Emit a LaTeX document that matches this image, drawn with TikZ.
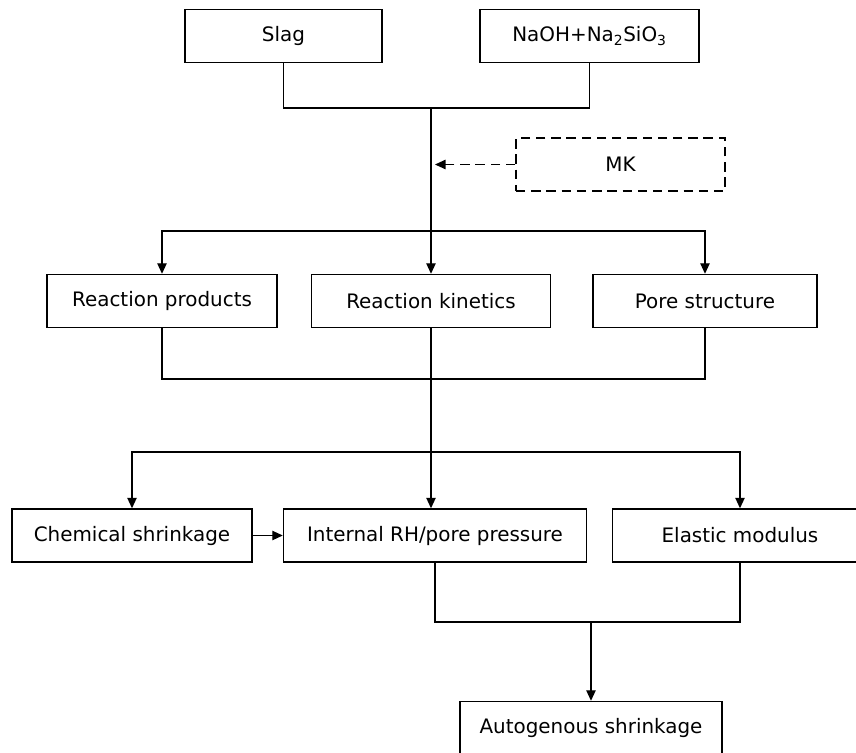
\documentclass[tikz,border=0pt]{standalone}
\usepackage{fontspec}
\setmainfont{DejaVu Sans}
\usetikzlibrary{arrows.meta}
\begin{document}
\begin{tikzpicture}[x=0.03cm, y=-0.03cm, font=\fontsize{17}{20}\selectfont, line width=1.2pt, line join=miter,
	>={Triangle[length=9pt,width=8pt]},
	box/.style={draw, inner sep=0pt, minimum height=1.59cm, minimum width=#1*0.03cm},
	dsh/.style={dash pattern=on 8pt off 5pt}]
			
			\useasboundingbox (0,0) rectangle (856,753);
			\clip (0,0) rectangle (856,753);
			
			% inputs
			\node[box=197] (slag) at (283.5,36) {Slag};
			\node[box=219] (naoh) at (589.5,36) {NaOH+Na\textsubscript{2}SiO\textsubscript{3}};
			\node[box=209, dsh] (mk) at (620.5,164.5) {MK};
			
			% microstructure
			\node[box=230] (rp) at (162,301) {Reaction products};
			\node[box=239] (rk) at (431,301) {Reaction kinetics};
			\node[box=224] (ps) at (705,301) {Pore structure};
			
			% mechanisms
			\node[box=240] (chem) at (132,535.5) {Chemical shrinkage};
			\node[box=303] (irh) at (435,535.5) {Internal RH/pore pressure};
			\node[box=255] (em) at (740,535.5) {Elastic modulus};
			\node[box=262] (auto) at (591,728) {Autogenous shrinkage};
			
			\coordinate (J1) at (431,108);
			\coordinate (J2) at (431,231);
			\coordinate (J3) at (431,379);
			\coordinate (J4) at (431,452);
			\coordinate (J5) at (591,622);
			\coordinate (M) at (435,164.5);
			
			\draw (slag.south) |- (J1) -| (naoh.south);
			\draw[->] (J1) -- (rk.north);
			\draw[->] (J2) -| (rp.north);
			\draw[->] (J2) -| (ps.north);
			\draw[->, dsh] (mk.west) -- (M);
			
			\draw (rp.south) |- (J3) -| (ps.south);
			\draw (rk.south) -- (J4);
			\draw[->] (J4) -| (chem.north);
			\draw[->] (J4) -| (em.north);
			\draw[->] (J4) -- (J4 |- irh.north);
			\draw[->] (chem.east) -- (irh.west);
			
			\draw (irh.south) |- (J5) -| (em.south);
			\draw[->] (J5) -- (auto.north);
	\end{tikzpicture}
\end{document}
